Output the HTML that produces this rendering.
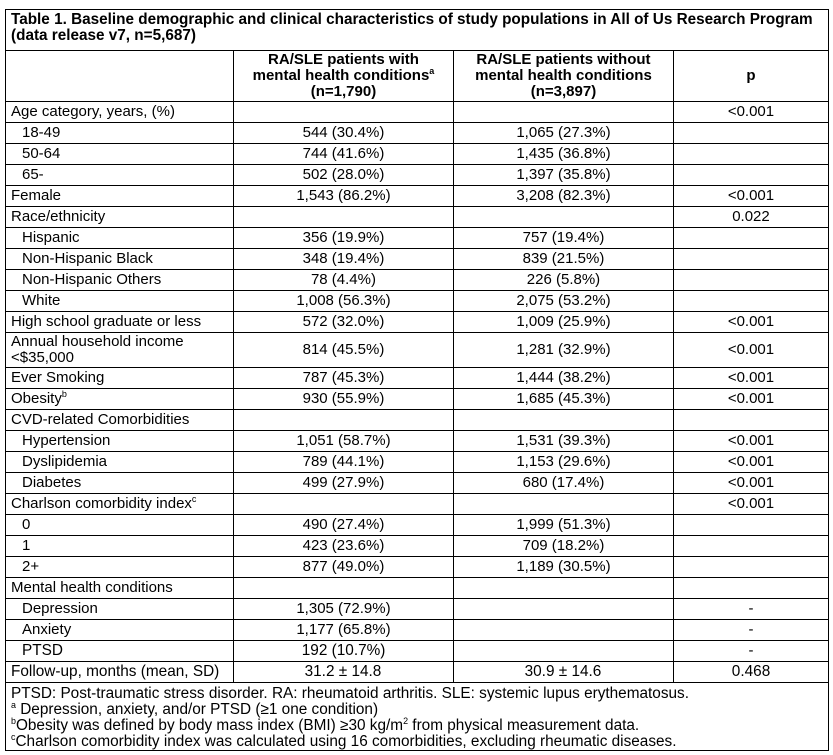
<!DOCTYPE html>
<html><head><meta charset="utf-8"><style>
body{margin:0;background:#fff;width:833px;height:755px;overflow:hidden;}
table{position:absolute;left:5px;top:9px;border-collapse:collapse;font-family:"Liberation Sans",Arial,sans-serif;font-size:15px;color:#000;table-layout:fixed;}
td{border:1px solid #000;padding:0 5px;height:20px;line-height:16px;white-space:nowrap;overflow:hidden;}
td.c{text-align:center;}
td.i{padding-left:16px;}
.t td{font-weight:bold;height:38px;line-height:16px;vertical-align:top;padding-top:2px;font-size:15.3px;}
.h td{font-weight:bold;height:50px;text-align:center;line-height:16px;font-size:15px;}
.n{display:inline-block;font-size:16px;transform:scaleX(0.96);transform-origin:left center;}
.nc{display:inline-block;font-size:16px;transform:scaleX(0.96);transform-origin:center;}
.f td{height:64px;line-height:16px;vertical-align:top;padding-top:3px;}
.f .n{font-size:15.5px;transform:scaleX(0.99);}
sup{font-size:9px;line-height:0;}
</style></head><body>
<table>
<colgroup><col style="width:227px"><col style="width:220px"><col style="width:220px"><col style="width:155px"></colgroup>
<tr class="t"><td colspan="4">Table 1. Baseline demographic and clinical characteristics of study populations in All of Us Research Program<br>(data release v7, n=5,687)</td></tr>
<tr class="h"><td></td><td>RA/SLE patients with<br>mental health conditions<sup>a</sup><br>(n=1,790)</td><td>RA/SLE patients without<br>mental health conditions<br>(n=3,897)</td><td>p</td></tr>
<tr><td>Age category, years, (%)</td><td></td><td></td><td class="c">&lt;0.001</td></tr>
<tr><td class="i">18-49</td><td class="c">544 (30.4%)</td><td class="c">1,065 (27.3%)</td><td></td></tr>
<tr><td class="i">50-64</td><td class="c">744 (41.6%)</td><td class="c">1,435 (36.8%)</td><td></td></tr>
<tr><td class="i">65-</td><td class="c">502 (28.0%)</td><td class="c">1,397 (35.8%)</td><td></td></tr>
<tr><td>Female</td><td class="c">1,543 (86.2%)</td><td class="c">3,208 (82.3%)</td><td class="c">&lt;0.001</td></tr>
<tr><td>Race/ethnicity</td><td></td><td></td><td class="c">0.022</td></tr>
<tr><td class="i">Hispanic</td><td class="c">356 (19.9%)</td><td class="c">757 (19.4%)</td><td></td></tr>
<tr><td class="i">Non-Hispanic Black</td><td class="c">348 (19.4%)</td><td class="c">839 (21.5%)</td><td></td></tr>
<tr><td class="i">Non-Hispanic Others</td><td class="c">78 (4.4%)</td><td class="c">226 (5.8%)</td><td></td></tr>
<tr><td class="i">White</td><td class="c">1,008 (56.3%)</td><td class="c">2,075 (53.2%)</td><td></td></tr>
<tr><td>High school graduate or less</td><td class="c">572 (32.0%)</td><td class="c">1,009 (25.9%)</td><td class="c">&lt;0.001</td></tr>
<tr><td style="height:34px">Annual household income<br>&lt;$35,000</td><td class="c">814 (45.5%)</td><td class="c">1,281 (32.9%)</td><td class="c">&lt;0.001</td></tr>
<tr><td>Ever Smoking</td><td class="c">787 (45.3%)</td><td class="c">1,444 (38.2%)</td><td class="c">&lt;0.001</td></tr>
<tr><td>Obesity<sup>b</sup></td><td class="c">930 (55.9%)</td><td class="c">1,685 (45.3%)</td><td class="c">&lt;0.001</td></tr>
<tr><td>CVD-related Comorbidities</td><td></td><td></td><td></td></tr>
<tr><td class="i">Hypertension</td><td class="c">1,051 (58.7%)</td><td class="c">1,531 (39.3%)</td><td class="c">&lt;0.001</td></tr>
<tr><td class="i">Dyslipidemia</td><td class="c">789 (44.1%)</td><td class="c">1,153 (29.6%)</td><td class="c">&lt;0.001</td></tr>
<tr><td class="i">Diabetes</td><td class="c">499 (27.9%)</td><td class="c">680 (17.4%)</td><td class="c">&lt;0.001</td></tr>
<tr><td>Charlson comorbidity index<sup>c</sup></td><td></td><td></td><td class="c">&lt;0.001</td></tr>
<tr><td class="i">0</td><td class="c">490 (27.4%)</td><td class="c">1,999 (51.3%)</td><td></td></tr>
<tr><td class="i">1</td><td class="c">423 (23.6%)</td><td class="c">709 (18.2%)</td><td></td></tr>
<tr><td class="i">2+</td><td class="c">877 (49.0%)</td><td class="c">1,189 (30.5%)</td><td></td></tr>
<tr><td>Mental health conditions</td><td></td><td></td><td></td></tr>
<tr><td class="i">Depression</td><td class="c">1,305 (72.9%)</td><td></td><td class="c">-</td></tr>
<tr><td class="i">Anxiety</td><td class="c">1,177 (65.8%)</td><td></td><td class="c">-</td></tr>
<tr><td class="i"><span class="n">PTSD</span></td><td class="c"><span class="nc">192 (10.7%)</span></td><td></td><td class="c">-</td></tr>
<tr><td><span class="n">Follow-up, months (mean, SD)</span></td><td class="c"><span class="nc">31.2 ± 14.8</span></td><td class="c"><span class="nc">30.9 ± 14.6</span></td><td class="c"><span class="nc">0.468</span></td></tr>
<tr class="f"><td colspan="4"><span class="n">PTSD: Post-traumatic stress disorder. RA: rheumatoid arthritis. SLE: systemic lupus erythematosus.</span><br><span class="n"><sup>a</sup> Depression, anxiety, and/or PTSD (≥1 one condition)</span><br><span class="n"><sup>b</sup>Obesity was defined by body mass index (BMI) ≥30 kg/m<sup>2</sup> from physical measurement data.</span><br><span class="n"><sup>c</sup>Charlson comorbidity index was calculated using 16 comorbidities, excluding rheumatic diseases.</span></td></tr>
</table>
</body></html>
